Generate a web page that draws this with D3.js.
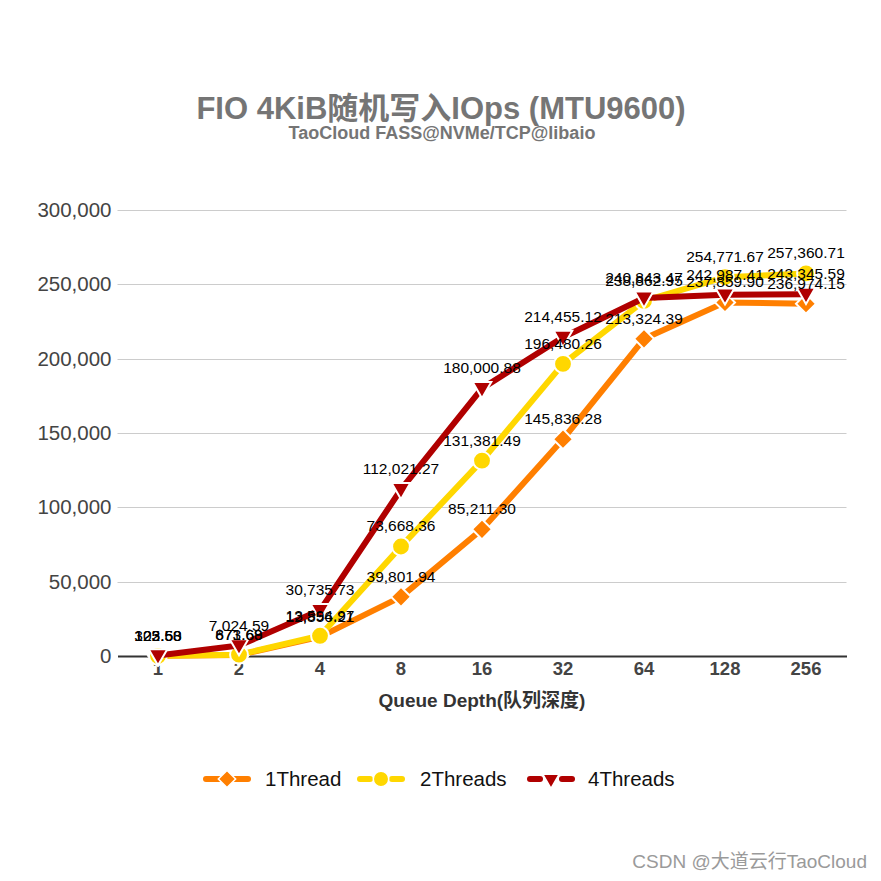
<!DOCTYPE html>
<html><head><meta charset="utf-8">
<script src="https://cdn.jsdelivr.net/npm/d3@7"></script>
<style>body{margin:0;background:#fff}svg{display:block}text{font-family:Arial,"Liberation Sans","Noto Sans CJK SC",sans-serif}</style>
</head><body>
<script>
const categories = ["1","2","4","8","16","32","64","128","256"];
const seriesNames = ["1Thread","2Threads","4Threads"];
const thread1 = [125.60, 671.69, 12856.21, 39801.94, 85211.30, 145836.28, 213324.39, 237859.90, 236974.15];
const thread2 = [102.53, 873.68, 13594.97, 73668.36, 131381.49, 196480.26, 238862.95, 254771.67, 257360.71];
const thread4 = [323.58, 7024.59, 30735.73, 112021.27, 180000.88, 214455.12, 240843.47, 242987.41, 243345.59];
const yTicks = [0, 50000, 100000, 150000, 200000, 250000, 300000];
const colors = ["#FF7F00", "#FFD700", "#B00000"];
const shapes = ["diamond", "circle", "triangle"];
const seriesValues = [thread1, thread2, thread4];

const W = 881, H = 881;
const svg = d3.select("body").append("svg").attr("width", W).attr("height", H);

const x = d3.scaleBand().domain(categories).range([117.5, 846.5]);
const y = d3.scaleLinear().domain([0, 300000]).range([656, 210]);
const cx = c => x(c) + x.bandwidth() / 2;
const AR = "Arial,'Liberation Sans',sans-serif";

// title
svg.append("text").attr("x", 441).attr("y", 119).attr("text-anchor", "middle")
  .attr("font-size", 31).attr("font-weight", "bold").attr("fill", "#757575")
  .text("FIO 4KiB随机写入IOps (MTU9600)");
svg.append("text").attr("x", 442).attr("y", 139).attr("text-anchor", "middle")
  .attr("font-size", 18).attr("font-weight", "bold").attr("fill", "#757575")
  .style("font-family", AR).text("TaoCloud FASS@NVMe/TCP@libaio");

// grid
svg.append("g").selectAll("line").data(yTicks.slice(1)).join("line")
  .attr("x1", 117.5).attr("x2", 846.5).attr("y1", d => Math.round(y(d)) + 0.5).attr("y2", d => Math.round(y(d)) + 0.5)
  .attr("stroke", "#cccccc").attr("stroke-width", 1);

// y axis
const yAxis = svg.append("g").attr("transform", "translate(117.5,0)")
  .call(d3.axisLeft(y).tickValues(yTicks).tickSize(0).tickPadding(6).tickFormat(d3.format(",")));
yAxis.select(".domain").remove();
yAxis.selectAll("text").attr("font-size", 20.5).attr("fill", "#444").style("font-family", AR);

// x axis
const xAxis = svg.append("g").attr("transform", "translate(0,656)")
  .call(d3.axisBottom(x).tickSize(0).tickPadding(6));
xAxis.select(".domain").attr("stroke", "#333").attr("stroke-width", 2);
xAxis.selectAll("text").attr("font-size", 18.5).attr("font-weight", "bold").attr("fill", "#444").style("font-family", AR);

svg.append("text").attr("x", 482).attr("y", 707).attr("text-anchor", "middle")
  .attr("font-size", 19).attr("font-weight", "bold").attr("fill", "#333")
  .text("Queue Depth(队列深度)");

const symbolOf = (s, k = 1) => s === "diamond" ? d3.symbol().type(d3.symbolSquare).size(200 * k)
  : s === "circle" ? d3.symbol().type(d3.symbolCircle).size(250 * k)
  : d3.symbol().type(d3.symbolTriangle).size(150 * k);
const rot = s => s === "diamond" ? " rotate(45)" : s === "triangle" ? " rotate(180)" : "";

const line = d3.line().x((d, i) => cx(categories[i])).y(d => y(d));
const plot = svg.append("g");
seriesValues.forEach((vals, si) => {
  const g = plot.append("g");
  g.append("path").datum(vals).attr("d", line).attr("fill", "none")
    .attr("stroke", colors[si]).attr("stroke-width", 6).attr("stroke-linejoin", "round");
  g.selectAll("path.m").data(vals).join("path").attr("class", "m")
    .attr("d", symbolOf(shapes[si]))
    .attr("transform", (d, i) => `translate(${cx(categories[i])},${y(d) + (shapes[si] === "triangle" ? -1 : 0)})` + rot(shapes[si]))
    .attr("fill", colors[si]).attr("stroke", "#fff").attr("stroke-width", 2);
});
const fmt = d3.format(",.2f");
seriesValues.forEach((vals, si) => {
  svg.append("g").selectAll("text").data(vals).join("text")
    .attr("x", (d, i) => cx(categories[i])).attr("y", d => y(d) - 15)
    .attr("text-anchor", "middle").attr("font-size", 15.5).attr("fill", "#000")
    .style("font-family", AR)
    .text(d => fmt(d));
});

// legend
const legX = [203, 357, 527];
const legTextX = [265, 420, 588];
seriesNames.forEach((n, i) => {
  const g = svg.append("g");
  if (i === 0) {
    g.append("line").attr("x1", legX[i] + 3).attr("x2", legX[i] + 45).attr("y1", 779).attr("y2", 779)
      .attr("stroke", colors[i]).attr("stroke-width", 6).attr("stroke-linecap", "round");
  } else {
    [[3, 13], [35, 45]].forEach(([a, b]) => g.append("line")
      .attr("x1", legX[i] + a).attr("x2", legX[i] + b).attr("y1", 779).attr("y2", 779)
      .attr("stroke", colors[i]).attr("stroke-width", 6).attr("stroke-linecap", "round"));
  }
  g.append("path").attr("d", symbolOf(shapes[i], 0.75)())
    .attr("transform", `translate(${legX[i] + 24},779)` + rot(shapes[i]))
    .attr("fill", colors[i]).attr("stroke", "#fff").attr("stroke-width", 1.5);
  g.append("text").attr("x", legTextX[i]).attr("y", 786).attr("font-size", 20.5).attr("fill", "#111")
    .style("font-family", AR).text(n);
});

svg.append("text").attr("x", 867).attr("y", 868).attr("text-anchor", "end")
  .attr("font-size", 19).attr("fill", "#9a9a9a").text("CSDN @大道云行TaoCloud");
</script>
</body></html>
